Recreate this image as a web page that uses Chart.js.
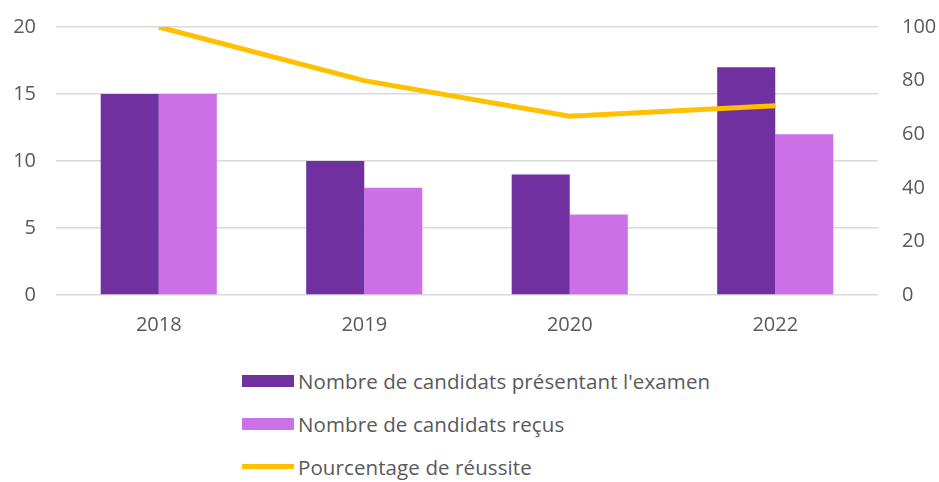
<!DOCTYPE html>
<html>
<head>
<meta charset="utf-8">
<script src="https://cdn.jsdelivr.net/npm/chart.js@4"></script>
<style>
  html, body { margin: 0; padding: 0; background: #fff; }
  body { width: 939px; height: 482px; position: relative; overflow: hidden; font-family: "Open Sans", sans-serif; }
  #wrap { position: absolute; left: 0; top: 0; width: 939px; height: 345px; }
  #legend { position: absolute; left: 242px; top: 359px; }
  .item { display: flex; align-items: center; height: 43px; color: #595959; font-size: 20.5px; letter-spacing: 0.1px; }
  .sw { width: 52px; margin-right: 4px; }
</style>
</head>
<body>
<div id="wrap"><canvas id="c"></canvas></div>
<div id="legend"></div>
<script>
const years = ["2018", "2019", "2020", "2022"];
const presented = [15, 10, 9, 17];
const passed = [15, 8, 6, 12];
const successPct = [100, 80, 66.67, 70.59];
const leftTicks = [0, 5, 10, 15, 20];
const rightTicks = [0, 20, 40, 60, 80, 100];

const grey = "#595959";
const font = { family: "Open Sans", size: 20 };

// fixed axis sizes so the plot area sits where the original has it
const fitY = (w) => (s) => {
  s.width = w;
  s.paddingTop = 0;
  s.paddingBottom = 0;
};

const chart = new Chart(document.getElementById("c"), {
  data: {
    labels: years,
    datasets: [
      {
        type: "bar",
        label: "Nombre de candidats présentant l'examen",
        data: presented,
        backgroundColor: "#7030A0",
        yAxisID: "y",
        order: 2,
        categoryPercentage: 0.565,
        barPercentage: 1,
      },
      {
        type: "bar",
        label: "Nombre de candidats reçus",
        data: passed,
        backgroundColor: "#CC70E8",
        yAxisID: "y",
        order: 2,
        categoryPercentage: 0.565,
        barPercentage: 1,
      },
      {
        type: "line",
        label: "Pourcentage de réussite",
        data: successPct,
        borderColor: "#FFC000",
        backgroundColor: "#FFC000",
        borderWidth: 5,
        pointRadius: 0,
        tension: 0,
        yAxisID: "y1",
        order: 1,
      },
    ],
  },
  options: {
    responsive: true,
    maintainAspectRatio: false,
    animation: false,
    layout: { padding: { top: 27, left: 0, right: 0, bottom: 0 } },
    plugins: { legend: { display: false }, tooltip: { enabled: false } },
    scales: {
      x: {
        grid: { display: false, drawTicks: false },
        border: { display: false },
        ticks: { color: grey, font, padding: 18 },
        afterFit: (s) => { s.height = 50; },
      },
      y: {
        position: "left",
        min: 0,
        max: 20,
        afterBuildTicks: (s) => { s.ticks = leftTicks.map((v) => ({ value: v })); },
        grid: { color: "#D9D9D9", lineWidth: 1.5, drawTicks: false },
        border: { display: false },
        ticks: { color: grey, font, padding: 20 },
        afterFit: fitY(56),
      },
      y1: {
        position: "right",
        min: 0,
        max: 100,
        afterBuildTicks: (s) => { s.ticks = rightTicks.map((v) => ({ value: v })); },
        grid: { display: false, drawTicks: false },
        border: { display: false },
        ticks: { color: grey, font, padding: 24 },
        afterFit: fitY(61),
      },
    },
  },
});

// legend listed one item per row, as in the original
document.getElementById("legend").innerHTML = chart.data.datasets
  .map((d) => {
    const h = d.type === "line" ? 5 : 12;
    return `<div class="item"><span class="sw" style="height:${h}px;background:${d.backgroundColor}"></span>${d.label}</div>`;
  })
  .join("");
</script>
</body>
</html>
